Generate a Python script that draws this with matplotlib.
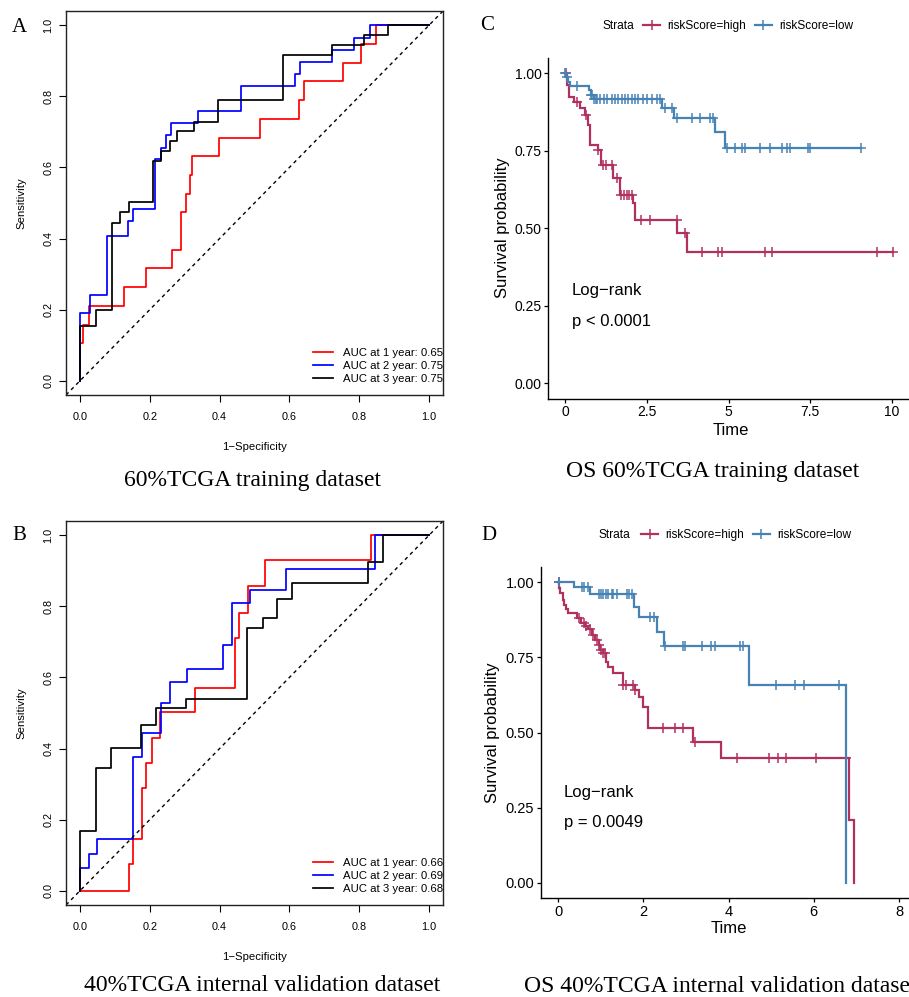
import numpy as np
import matplotlib
matplotlib.use("Agg")
import matplotlib.pyplot as plt
from matplotlib.lines import Line2D

# ---------------- data ----------------
# ROC panel A (60% TCGA training)
rocA_fpr_1y = [0, 0, 0.008, 0.027, 0.127, 0.188, 0.263, 0.289, 0.305, 0.314, 0.322, 0.398, 0.517, 0.627, 0.643, 0.754, 0.805, 0.848, 1.0]
rocA_tpr_1y = [0, 0.105, 0.158, 0.211, 0.263, 0.316, 0.368, 0.474, 0.526, 0.579, 0.632, 0.684, 0.737, 0.789, 0.842, 0.895, 0.947, 1.0, 1.0]
rocA_fpr_2y = [0, 0, 0.030, 0.077, 0.139, 0.153, 0.215, 0.231, 0.246, 0.262, 0.339, 0.462, 0.615, 0.631, 0.722, 0.784, 0.830, 1.0]
rocA_tpr_2y = [0, 0.190, 0.242, 0.408, 0.448, 0.482, 0.623, 0.656, 0.691, 0.726, 0.758, 0.829, 0.864, 0.896, 0.930, 0.965, 1.0, 1.0]
rocA_fpr_3y = [0, 0, 0.046, 0.093, 0.116, 0.141, 0.210, 0.233, 0.257, 0.279, 0.326, 0.395, 0.581, 0.721, 0.814, 0.883, 1.0]
rocA_tpr_3y = [0, 0.154, 0.198, 0.443, 0.476, 0.504, 0.619, 0.647, 0.673, 0.702, 0.728, 0.789, 0.916, 0.944, 0.972, 1.0, 1.0]
aucA = [0.65, 0.75, 0.75]

# ROC panel B (40% TCGA internal validation)
rocB_fpr_1y = [0, 0.140, 0.152, 0.178, 0.190, 0.205, 0.230, 0.329, 0.444, 0.456, 0.481, 0.531, 0.835, 1.0]
rocB_tpr_1y = [0, 0.076, 0.145, 0.288, 0.359, 0.429, 0.502, 0.571, 0.712, 0.782, 0.857, 0.930, 1.0, 1.0]
rocB_fpr_2y = [0, 0, 0.026, 0.050, 0.152, 0.179, 0.231, 0.257, 0.308, 0.410, 0.435, 0.486, 0.590, 0.846, 1.0]
rocB_tpr_2y = [0, 0.064, 0.104, 0.146, 0.375, 0.443, 0.529, 0.588, 0.623, 0.690, 0.808, 0.846, 0.904, 1.0, 1.0]
rocB_fpr_3y = [0, 0, 0.045, 0.088, 0.174, 0.217, 0.305, 0.478, 0.524, 0.565, 0.608, 0.826, 0.869, 1.0]
rocB_tpr_3y = [0, 0.167, 0.346, 0.401, 0.465, 0.513, 0.540, 0.738, 0.766, 0.822, 0.867, 0.925, 1.0, 1.0]
aucB = [0.66, 0.69, 0.68]

roc_years = [1, 2, 3]

# KM panel C (OS training)
kmC_high_t = [0, 0.07, 0.13, 0.27, 0.46, 0.61, 0.71, 0.76, 1.02, 1.10, 1.48, 1.68, 2.09, 2.15, 3.42, 3.72]
kmC_high_s = [1.0, 0.96, 0.924, 0.907, 0.886, 0.865, 0.832, 0.768, 0.752, 0.703, 0.661, 0.606, 0.58, 0.526, 0.483, 0.424]
kmC_high_end = 10.04
kmC_high_cens = [0.03, 0.36, 0.64, 1.02, 1.17, 1.25, 1.43, 1.58, 1.71, 1.80, 1.89, 1.97, 2.04, 2.32, 2.60,
                 3.41, 3.67, 4.18, 4.69, 4.79, 6.12, 6.32, 9.53, 10.04]
kmC_low_t = [0, 0.03, 0.10, 0.15, 0.74, 0.80, 0.88, 2.96, 3.32, 4.59, 4.90]
kmC_low_s = [1.0, 0.986, 0.972, 0.959, 0.945, 0.93, 0.916, 0.886, 0.855, 0.81, 0.758]
kmC_low_end = 9.05
kmC_low_cens = [0.0, 0.05, 0.36, 0.80, 0.84, 0.90, 0.95, 0.99, 1.07, 1.19, 1.30, 1.43, 1.53, 1.63, 1.73, 1.83,
                1.94, 2.04, 2.14, 2.24, 2.40, 2.50, 2.65, 2.80, 2.91, 3.06, 3.26, 3.41, 3.87, 4.13, 4.43, 4.54,
                4.96, 5.2, 5.4, 5.5, 5.96, 6.27, 6.63, 6.78, 6.88, 7.44, 7.49, 9.05]
pvalC = "p < 0.0001"

# KM panel D (OS validation)
kmD_high_t = [0, 0.03, 0.05, 0.11, 0.14, 0.19, 0.24, 0.45, 0.55, 0.63, 0.71, 0.79, 0.87, 0.95, 0.99, 1.05, 1.13,
              1.18, 1.30, 1.52, 1.81, 1.89, 2.00, 2.10, 3.16, 3.82, 6.83, 6.95]
kmD_high_s = [1.0, 0.98, 0.964, 0.94, 0.924, 0.909, 0.898, 0.879, 0.865, 0.855, 0.843, 0.824, 0.808, 0.791, 0.775,
              0.763, 0.735, 0.718, 0.697, 0.658, 0.641, 0.619, 0.584, 0.514, 0.469, 0.414, 0.209, 0.0]
kmD_high_end = 6.95
kmD_high_cens = [0.02, 0.48, 0.60, 0.66, 0.75, 0.83, 0.91, 0.96, 1.00, 1.05, 1.10, 1.53, 1.60, 1.75, 1.81, 2.46,
                 2.75, 2.94, 3.22, 4.21, 4.95, 5.16, 5.34, 6.06, 6.75]
kmD_low_t = [0, 0.38, 0.74, 1.78, 1.91, 2.32, 2.49, 4.47, 6.75]
kmD_low_s = [1.0, 0.984, 0.96, 0.918, 0.885, 0.835, 0.787, 0.658, 0.0]
kmD_low_end = 6.75
kmD_low_cens = [0.02, 0.56, 0.62, 0.71, 0.95, 1.0, 1.06, 1.13, 1.18, 1.26, 1.30, 1.38, 1.61, 1.67, 1.73, 2.16,
                2.24, 2.51, 2.94, 2.98, 3.37, 3.58, 3.68, 4.28, 4.33, 5.12, 5.55, 5.78, 6.60]
pvalD = "p = 0.0049"

strata_labels = ["riskScore=high", "riskScore=low"]
titles = ["60%TCGA training dataset", "40%TCGA internal validation dataset",
          "OS 60%TCGA training dataset", "OS 40%TCGA internal validation dataset"]

# ---------------- style ----------------
W, H = 909, 997
fig = plt.figure(figsize=(W / 100, H / 100), dpi=100)
SANS = ["Liberation Sans", "DejaVu Sans"]
SERIF = ["Liberation Serif", "DejaVu Serif"]
plt.rcParams["font.family"] = SANS

ROC_COLORS = ["#FF0000", "#0000FF", "#000000"]
KM_HIGH = "#B03060"
KM_LOW = "#4682B4"


def add_axes_px(left, top, right, bottom):
    return fig.add_axes([left / W, 1 - bottom / H, (right - left) / W, (bottom - top) / H])


def roc_panel(ax, curves, aucs, legend_center_y):
    for (fpr, tpr), col in zip(curves, ROC_COLORS):
        ax.step(fpr, tpr, where="post", color=col, lw=1.25)
    ax.axline((0, 0), (1, 1), color="black", lw=1.0, ls=(0, (2.6, 2.6)))
    ax.set_xlim(-0.04, 1.04)
    ax.set_ylim(-0.04, 1.04)
    ticks = [0, 0.2, 0.4, 0.6, 0.8, 1.0]
    ax.set_xticks(ticks)
    ax.set_yticks(ticks)
    ax.set_xticklabels([f"{t:.1f}" for t in ticks])
    ax.set_yticklabels([f"{t:.1f}" for t in ticks])
    ax.tick_params(direction="out", length=5, width=0.8, labelsize=7.8, color="black")
    ax.tick_params(axis="x", pad=7)
    ax.tick_params(axis="y", pad=4, labelrotation=90)
    for lbl in ax.get_yticklabels():
        lbl.set_va("center")
    for sp in ax.spines.values():
        sp.set_linewidth(1.0)
        sp.set_color("#222222")
    ax.set_xlabel("1\u2212Specificity", fontsize=8.2, va="center")
    ax.set_ylabel("Sensitivity", fontsize=8.2, va="center")
    ax.xaxis.set_label_coords(0.5, (395 - 447) / 384)
    ax.yaxis.set_label_coords((21 - 66) / 377, 0.5)
    handles = [Line2D([], [], color=c, lw=1.25) for c in ROC_COLORS]
    labels = [f"AUC at {y} year: {a:.2f}" for y, a in zip(roc_years, aucs)]
    ax.legend(handles, labels, loc="center left", frameon=False, fontsize=8.2,
              bbox_to_anchor=(313 / W, 1 - legend_center_y / H), bbox_transform=fig.transFigure,
              borderpad=0, handlelength=1.75, handletextpad=0.85, labelspacing=0.3, borderaxespad=0)


def step_value(t, times, surv):
    idx = np.searchsorted(times, t, side="right") - 1
    return np.asarray(surv)[idx]


def km_panel(ax, groups, xlim, xticks, xticklabels, pval, txt_x, tick_fs, legend_xy, strata_right):
    for (t, s, end, cens), col in zip(groups, [KM_HIGH, KM_LOW]):
        tt = list(t) + ([end] if end > t[-1] else [])
        ss = list(s) + ([s[-1]] if end > t[-1] else [])
        ax.step(tt, ss, where="post", color=col, lw=1.6, solid_joinstyle="miter")
        cy = [step_value(c, t, s) for c in cens]
        ax.plot(cens, cy, ls="none", marker="+", ms=6.5, mew=1.1, color=col)
    ax.set_xlim(*xlim)
    ax.set_ylim(-0.05, 1.05)
    ax.set_xticks(xticks)
    ax.set_xticklabels(xticklabels)
    yt = [0, 0.25, 0.5, 0.75, 1.0]
    ax.set_yticks(yt)
    ax.set_yticklabels([f"{v:.2f}" for v in yt])
    ax.tick_params(direction="out", length=3, width=0.9, labelsize=tick_fs, color="black", pad=2)
    for side in ["top", "right"]:
        ax.spines[side].set_visible(False)
    for side in ["left", "bottom"]:
        ax.spines[side].set_linewidth(1.0)
    ax.set_xlabel("Time", fontsize=12, va="center")
    ax.set_ylabel("Survival probability", fontsize=12, va="center")
    ax.text(txt_x, 0.30, "Log\u2212rank", fontsize=12, va="center", ha="left")
    ax.text(txt_x, 0.20, pval, fontsize=12, va="center", ha="left")
    handles = [Line2D([], [], color=c, lw=1.6, marker="+", ms=6.5, mew=1.1) for c in [KM_HIGH, KM_LOW]]
    ax.legend(handles, strata_labels, loc="center left", frameon=False, fontsize=8.6, ncol=2,
              bbox_to_anchor=(legend_xy[0] / W, 1 - legend_xy[1] / H), bbox_transform=fig.transFigure,
              borderpad=0, borderaxespad=0, handlelength=1.45, handletextpad=0.6, columnspacing=0.7)
    fig.text(strata_right / W, 1 - legend_xy[1] / H, "Strata", fontsize=8.6, ha="right", va="center")


# ---------------- panels ----------------
axA = add_axes_px(66, 11, 443, 395)
roc_panel(axA, [(rocA_fpr_1y, rocA_tpr_1y), (rocA_fpr_2y, rocA_tpr_2y), (rocA_fpr_3y, rocA_tpr_3y)], aucA, 366)

axB = add_axes_px(66, 521, 443, 905)
roc_panel(axB, [(rocB_fpr_1y, rocB_tpr_1y), (rocB_fpr_2y, rocB_tpr_2y), (rocB_fpr_3y, rocB_tpr_3y)], aucB, 876)

axC = add_axes_px(548.4, 57.5, 913.2, 398.5)
km_panel(axC,
         [(kmC_high_t, kmC_high_s, kmC_high_end, kmC_high_cens), (kmC_low_t, kmC_low_s, kmC_low_end, kmC_low_cens)],
         (-0.507, 10.647), [0, 2.5, 5, 7.5, 10], ["0", "2.5", "5", "7.5", "10"], pvalC, 0.2, 10.0,
         (643, 26), 634)
axC.xaxis.set_label_coords(0.5, (398.5 - 430) / 341)
axC.yaxis.set_label_coords((502 - 548.4) / 364.8, 0.5)

axD = add_axes_px(541, 567, 916, 898)
km_panel(axD,
         [(kmD_high_t, kmD_high_s, kmD_high_end, kmD_high_cens), (kmD_low_t, kmD_low_s, kmD_low_end, kmD_low_cens)],
         (-0.4, 8.4), [0, 2, 4, 6, 8], ["0", "2", "4", "6", "8"], pvalD, 0.14, 10.5,
         (641, 535), 630)
axD.xaxis.set_label_coords(0.5, (898 - 928) / 331)
axD.yaxis.set_label_coords((493 - 541) / 375, 0.5)

# panel letters
for lab, (x, y) in zip("ABCD", [(19.5, 27), (19, 536), (487.5, 26), (489, 536)]):
    fig.text(x / W, 1 - y / H, lab, family=SERIF, fontsize=15, ha="center", va="center")

# titles
for ttl, (x, y) in zip(titles, [(252, 480), (262, 985), (713, 471), (720, 986)]):
    fig.text(x / W, 1 - y / H, ttl, family=SERIF, fontsize=17, ha="center", va="center")

fig.savefig("out.png", dpi=100)
